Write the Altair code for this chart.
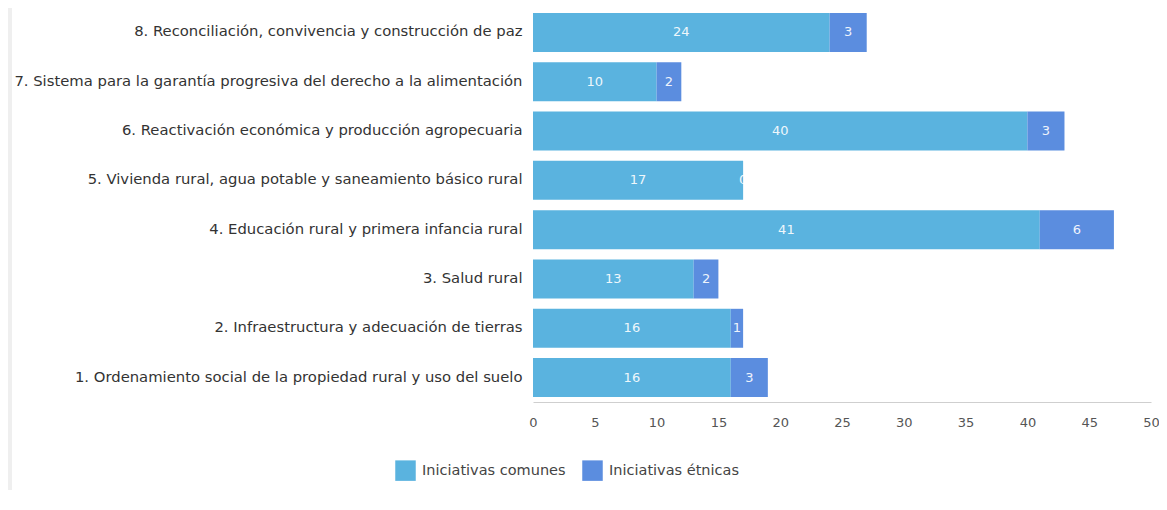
import altair as alt
import pandas as pd

categories = [
    "8. Reconciliación, convivencia y construcción de paz",
    "7. Sistema para la garantía progresiva del derecho a la alimentación",
    "6. Reactivación económica y producción agropecuaria",
    "5. Vivienda rural, agua potable y saneamiento básico rural",
    "4. Educación rural y primera infancia rural",
    "3. Salud rural",
    "2. Infraestructura y adecuación de tierras",
    "1. Ordenamiento social de la propiedad rural y uso del suelo",
]
comunes = [24, 10, 40, 17, 41, 13, 16, 16]
etnicas = [3, 2, 3, 0, 6, 2, 1, 3]
series = ["Iniciativas comunes", "Iniciativas étnicas"]
colors = ["#5ab3df", "#5b8ddf"]

rows = []
for c, a, b in zip(categories, comunes, etnicas):
    rows.append({"cat": c, "serie": series[0], "val": a, "ord": 0})
    rows.append({"cat": c, "serie": series[1], "val": b, "ord": 1})
df = pd.DataFrame(rows)

FONT = "DejaVu Sans"

base = alt.Chart(df).transform_stack(
    stack="val", groupby=["cat"], as_=["x0", "x1"], sort=[alt.SortField("ord")]
).transform_calculate(mid="(datum.x0 + datum.x1) / 2")

yaxis = alt.Axis(domain=False, ticks=False, labelPadding=11, labelFontSize=14.8,
                 labelColor="#333333", labelFont=FONT, labelLimit=0)
xaxis = alt.Axis(values=list(range(0, 51, 5)), grid=False, ticks=False, labelFlush=False,
                 domainColor="#cfcfcf", labelPadding=14, labelFontSize=13,
                 labelColor="#555555", labelFont=FONT)

bars = base.mark_bar().encode(
    y=alt.Y("cat:N", sort=categories, title=None,
            scale=alt.Scale(paddingInner=0.21, paddingOuter=0.1), axis=yaxis),
    x=alt.X("x0:Q", title=None, scale=alt.Scale(domain=[0, 50]), axis=xaxis),
    x2="x1:Q",
    color=alt.Color("serie:N", scale=alt.Scale(domain=series, range=colors),
                    legend=alt.Legend(title=None, orient="none", direction="horizontal",
                                      legendX=-138, legendY=452, symbolType="square",
                                      symbolSize=420, symbolStrokeWidth=0,
                                      labelFontSize=14.5, labelColor="#444444", labelFont=FONT,
                                      labelOffset=6, columnPadding=16)),
)

labels = base.mark_text(color="white", fontSize=13, font=FONT, opacity=0.9).encode(
    y=alt.Y("cat:N", sort=categories, title=None, axis=yaxis),
    x=alt.X("mid:Q", title=None, axis=xaxis),
    text=alt.Text("val:Q"),
)

frame = alt.Chart(pd.DataFrame({"k": [0]})).mark_rule(color="#efefef", strokeWidth=6).encode(
    x=alt.value(-524), y=alt.value(-3), y2=alt.value(482)
)

chart = alt.layer(frame, bars, labels).properties(
    width=618, height=394,
    autosize=alt.AutoSizeParams(type="none"),
    padding={"left": 525, "top": 0, "right": 8, "bottom": 100},
).configure(background="white").configure_view(stroke=None)

chart.save("out.html", embed_options={"renderer": "svg", "actions": False})
